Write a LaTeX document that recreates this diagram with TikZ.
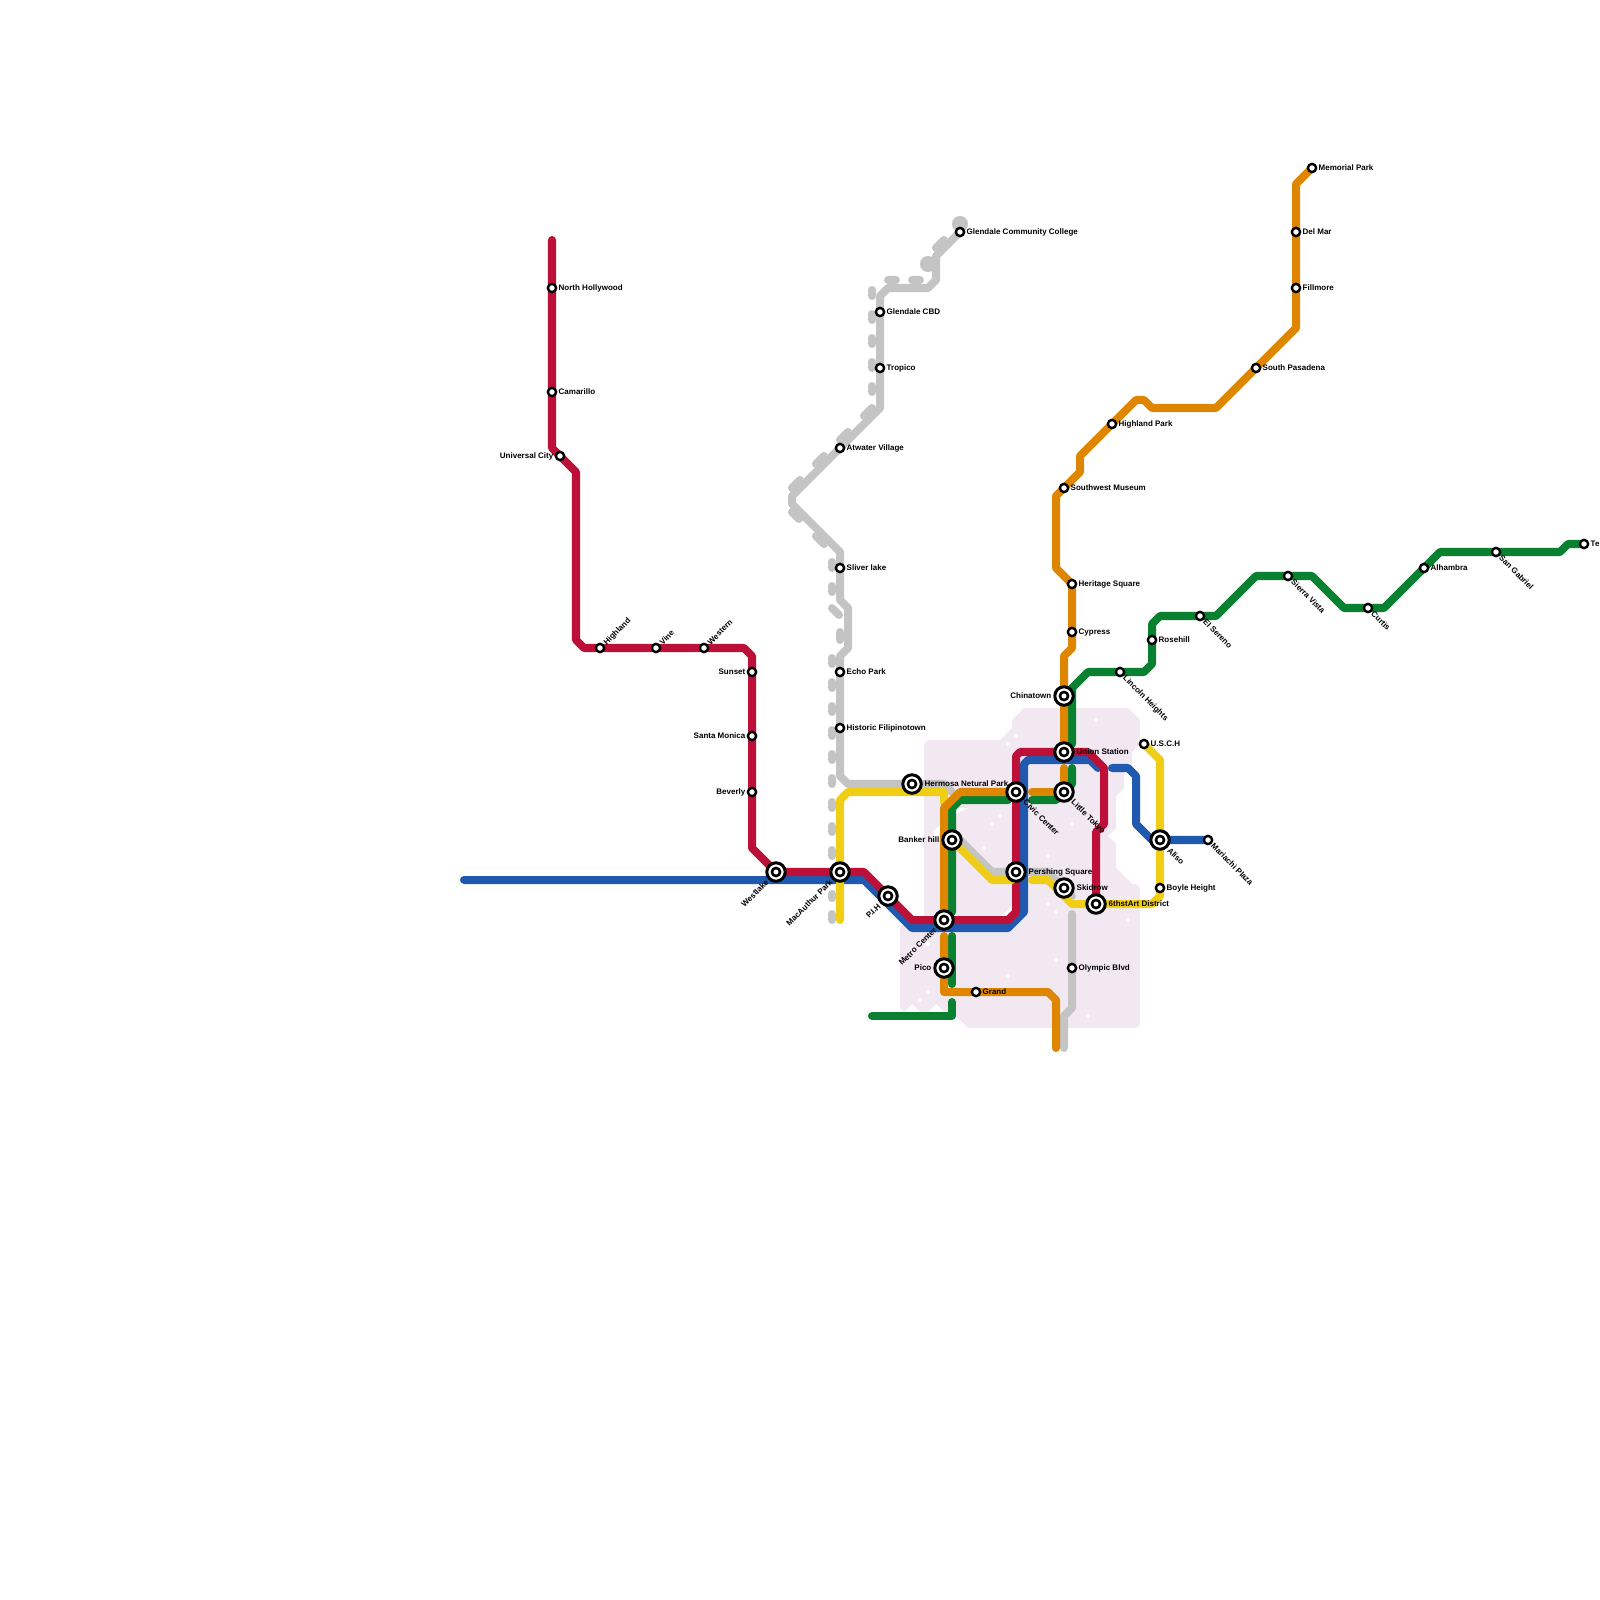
\documentclass[tikz,border=0pt]{standalone}
\usepackage{fontspec}
\setmainfont{Liberation Sans}
\usetikzlibrary{backgrounds}

\definecolor{redline}{HTML}{BD1038}
\definecolor{blueline}{HTML}{1F5AB0}
\definecolor{greenline}{HTML}{0A8131}
\definecolor{orangeline}{HTML}{DF8600}
\definecolor{yellowline}{HTML}{F0CE15}
\definecolor{grayline}{HTML}{C4C4C4}
\definecolor{downtown}{HTML}{F1E8F1}

\tikzset{
  route/.style={line width=2.28pt, line cap=round, line join=round},
  stop/.style={circle, draw=black, fill=white, line width=.68pt, minimum size=2.35pt, inner sep=0pt},
  hub/.style={circle, draw=black, fill=white, line width=.85pt, minimum size=5.25pt, inner sep=0pt,
    path picture={\draw[black, line width=.74pt] (path picture bounding box.center) circle (1.15pt);}},
  tag/.style={inner sep=0pt, text height=1.64pt, text depth=0pt, font=\fontsize{2.276}{2.7}\selectfont\bfseries},
  tagR/.style={tag, anchor=west, xshift=1.7pt},
  tagL/.style={tag, anchor=east, xshift=-1.7pt},
  hubR/.style={tag, anchor=west, xshift=3.4pt},
  hubL/.style={tag, anchor=east, xshift=-3.4pt},
}

\begin{document}
\begin{tikzpicture}[x=0.01cm, y=-0.01cm]
\useasboundingbox (0,0) rectangle (1600,1600);

% North Hollywood branch
\node[stop] (nohollywood) at (552,288) {};
\node[stop] (camarillo) at (552,392) {};
\node[stop] (universal) at (560,456) {};
\node[stop] (highland) at (600,648) {};
\node[stop] (vine) at (656,648) {};
\node[stop] (western) at (704,648) {};
\node[stop] (sunset) at (752,672) {};
\node[stop] (santamonica) at (752,736) {};
\node[stop] (beverly) at (752,792) {};
\node[tagR] (nohollywood-t) at (nohollywood) {North Hollywood};
\node[tagR] (camarillo-t) at (camarillo) {Camarillo};
\node[tagL] (universal-t) at (universal) {Universal City};
\node[rotate=45, tagR] (highland-t) at (highland) {Highland};
\node[rotate=45, tagR] (vine-t) at (vine) {Vine};
\node[rotate=45, tagR] (western-t) at (western) {Western};
\node[tagL] (sunset-t) at (sunset) {Sunset};
\node[tagL] (santamonica-t) at (santamonica) {Santa Monica};
\node[tagL] (beverly-t) at (beverly) {Beverly};

% Central stations
\node[hub] (westlake) at (776,872) {};
\node[hub] (macarthur) at (840,872) {};
\node[hub] (pih) at (888,896) {};
\node[hub] (metrocenter) at (944,920) {};
\node[hub] (pico) at (944,968) {};
\node[stop] (grand) at (976,992) {};
\node[hub] (bankerhill) at (952,840) {};
\node[hub] (hermosa) at (912,784) {};
\node[hub] (civiccenter) at (1016,792) {};
\node[hub] (pershing) at (1016,872) {};
\node[hub] (chinatown) at (1064,696) {};
\node[hub] (union) at (1064,752) {};
\node[hub] (littletokyo) at (1064,792) {};
\node[hub] (skidrow) at (1064,888) {};
\node[hub] (artdistrict) at (1096,904) {};
\node[stop] (olympic) at (1072,968) {};
\node[hub] (aliso) at (1160,840) {};
\node[stop] (mariachi) at (1208,840) {};
\node[stop] (boyle) at (1160,888) {};
\node[stop] (usch) at (1144,744) {};
\node[rotate=45, hubL] (westlake-t) at (westlake) {Westlake};
\node[rotate=45, hubL] (macarthur-t) at (macarthur) {MacAuthur Park};
\node[rotate=45, hubL] (pih-t) at (pih) {P.I.H};
\node[rotate=45, hubL] (metrocenter-t) at (metrocenter) {Metro Center};
\node[hubL] (pico-t) at (pico) {Pico};
\node[tagR] (grand-t) at (grand) {Grand};
\node[hubL] (bankerhill-t) at (bankerhill) {Banker hill};
\node[hubR] (hermosa-t) at (hermosa) {Hermosa Netural Park};
\node[rotate=-45, hubR] (civiccenter-t) at (civiccenter) {Civic Center};
\node[hubR] (pershing-t) at (pershing) {Pershing Square};
\node[hubL] (chinatown-t) at (chinatown) {Chinatown};
\node[hubR] (union-t) at (union) {Union Station};
\node[rotate=-45, hubR] (littletokyo-t) at (littletokyo) {Little Tokyo};
\node[hubR] (skidrow-t) at (skidrow) {Skidrow};
\node[hubR] (artdistrict-t) at (artdistrict) {6thstArt District};
\node[tagR] (olympic-t) at (olympic) {Olympic Blvd};
\node[rotate=-45, hubR] (aliso-t) at (aliso) {Aliso};
\node[rotate=-45, tagR] (mariachi-t) at (mariachi) {Mariachi Plaza};
\node[tagR] (boyle-t) at (boyle) {Boyle Height};
\node[tagR] (usch-t) at (usch) {U.S.C.H};

% Glendale branch
\node[stop] (glendalecc) at (960,232) {};
\node[stop] (glendalecbd) at (880,312) {};
\node[stop] (tropico) at (880,368) {};
\node[stop] (atwater) at (840,448) {};
\node[stop] (sliverlake) at (840,568) {};
\node[stop] (echopark) at (840,672) {};
\node[stop] (filipinotown) at (840,728) {};
\node[tagR] (glendalecc-t) at (glendalecc) {Glendale Community College};
\node[tagR] (glendalecbd-t) at (glendalecbd) {Glendale CBD};
\node[tagR] (tropico-t) at (tropico) {Tropico};
\node[tagR] (atwater-t) at (atwater) {Atwater Village};
\node[tagR] (sliverlake-t) at (sliverlake) {Sliver lake};
\node[tagR] (echopark-t) at (echopark) {Echo Park};
\node[tagR] (filipinotown-t) at (filipinotown) {Historic Filipinotown};

% Pasadena branch
\node[stop] (memorial) at (1312,168) {};
\node[stop] (delmar) at (1296,232) {};
\node[stop] (fillmore) at (1296,288) {};
\node[stop] (southpasadena) at (1256,368) {};
\node[stop] (highlandpark) at (1112,424) {};
\node[stop] (swmuseum) at (1064,488) {};
\node[stop] (heritage) at (1072,584) {};
\node[stop] (cypress) at (1072,632) {};
\node[tagR] (memorial-t) at (memorial) {Memorial Park};
\node[tagR] (delmar-t) at (delmar) {Del Mar};
\node[tagR] (fillmore-t) at (fillmore) {Fillmore};
\node[tagR] (southpasadena-t) at (southpasadena) {South Pasadena};
\node[tagR] (highlandpark-t) at (highlandpark) {Highland Park};
\node[tagR] (swmuseum-t) at (swmuseum) {Southwest Museum};
\node[tagR] (heritage-t) at (heritage) {Heritage Square};
\node[tagR] (cypress-t) at (cypress) {Cypress};

% Eastern branch
\node[stop] (lincoln) at (1120,672) {};
\node[stop] (rosehill) at (1152,640) {};
\node[stop] (elsereno) at (1200,616) {};
\node[stop] (sierravista) at (1288,576) {};
\node[stop] (curtis) at (1368,608) {};
\node[stop] (alhambra) at (1424,568) {};
\node[stop] (sangabriel) at (1496,552) {};
\node[stop] (lastwest) at (1584,544) {};
\node[rotate=-45, tagR] (lincoln-t) at (lincoln) {Lincoln Heights};
\node[tagR] (rosehill-t) at (rosehill) {Rosehill};
\node[rotate=-45, tagR] (elsereno-t) at (elsereno) {El Sereno};
\node[rotate=-45, tagR] (sierravista-t) at (sierravista) {Sierra Vista};
\node[rotate=-45, tagR] (curtis-t) at (curtis) {Curtis};
\node[tagR] (alhambra-t) at (alhambra) {Alhambra};
\node[rotate=-45, tagR] (sangabriel-t) at (sangabriel) {San Gabriel};
\node[tagR] (lastwest-t) at (lastwest) {Te};

\begin{scope}[on background layer]
% Downtown area
\fill[downtown] (924,744) -- (928,740) -- (1000,740) -- (1012,728) -- (1012,720) -- (1024,708) -- (1128,708) -- (1140,720) -- (1140,744) -- (1132,752) -- (1132,764) -- (1124,772) -- (1124,788) -- (1116,796) -- (1116,828) -- (1108,836) -- (1116,844) -- (1116,868) -- (1132,884) -- (1136,884) -- (1140,888) -- (1140,1024) -- (1136,1028) -- (968,1028) -- (952,1012) -- (944,1012) -- (936,1004) -- (928,1012) -- (920,1012) -- (912,1004) -- (904,1012) -- (900,1008) -- (900,928) -- (904,924) -- (924,924) -- cycle;
\fill[white] (940,825) -- (932,833) -- (940,841) -- cycle;
\fill[white] (952,816) -- (960,808) -- (968,808) -- cycle;
\fill[white] (1002,916) -- (1012,906) -- (1012,916) -- cycle;
\fill[white] (1016,736) circle (.6pt) (1008,744) circle (.6pt) (1096,720) circle (.6pt)
  (1000,816) circle (.6pt) (992,824) circle (.6pt) (984,848) circle (.6pt)
  (1072,824) circle (.6pt) (1048,856) circle (.6pt) (1048,904) circle (.6pt)
  (1056,912) circle (.6pt) (1128,920) circle (.6pt) (928,944) circle (.6pt)
  (1056,960) circle (.6pt) (1008,976) circle (.6pt) (928,992) circle (.6pt)
  (920,1000) circle (.6pt) (1088,1016) circle (.6pt);

% Gray line
\fill[grayline] (960,224) circle (2.28pt) (928,264) circle (2.28pt);
\draw[route, grayline] (glendalecc.center) -- (936,256) -- (936,280) -- (928,288) -- (888,288) -- (880,296) -- (880,408) -- (792,496) -- (792,504) -- (840,552) -- (840,600) -- (848,608) -- (848,648) -- (840,656) -- (840,776) -- (848,784) -- (944,784) -- (952,792);
\draw[route, grayline] (952,832) -- (992,872) -- (pershing.center) -- (1048,872) -- (1072,896);
\draw[route, grayline] (1072,914) -- (1072,1008) -- (1064,1016) -- (1064,1048);
% Gray dashes
\draw[route, grayline] (936,248) -- (944,240) (888,280) -- (896,280) (912,280) -- (920,280)
  (872,290) -- (872,296) (872,314) -- (872,320) (872,338) -- (872,344) (872,362) -- (872,368) (872,386) -- (872,392)
  (864,416) -- (872,408) (840,440) -- (848,432) (816,464) -- (824,456) (792,488) -- (800,480)
  (792,512) -- (799,519) (816,536) -- (824,544)
  (832,562) -- (832,568) (832,586) -- (832,592) (832,608) -- (839,615) (840,632) -- (840,640)
  (832,658) -- (832,664) (832,682) -- (832,688) (832,706) -- (832,712) (832,730) -- (832,736)
  (832,754) -- (832,760) (832,778) -- (832,784) (832,802) -- (832,808) (832,826) -- (832,832)
  (832,850) -- (832,856) (832,874) -- (832,880) (832,894) -- (832,898) (832,914) -- (832,920);

% Blue line
\draw[route, blueline] (464,880) -- (864,880) -- (912,928) -- (1008,928) -- (1024,912) -- (1024,764) -- (1028,760) -- (1090,760) -- (1098,768);
\draw[route, blueline] (1112,768) -- (1128,768) -- (1136,776) -- (1136,824) -- (1152,840) -- (mariachi.center);

% Red line
\draw[route, redline] (552,240) -- (552,448) -- (576,472) -- (576,640) -- (584,648) -- (744,648) -- (752,656) -- (752,848) -- (westlake.center) -- (864,872) -- (912,920) -- (1008,920) -- (1016,912) -- (1016,756) -- (1020,752) -- (1088,752) -- (1104,768) -- (1104,824) -- (1096,832) -- (artdistrict.center);

% Green line
\draw[route, greenline] (lastwest.center) -- (1568,544) -- (1560,552) -- (1440,552) -- (1384,608) -- (1344,608) -- (1312,576) -- (1256,576) -- (1216,616) -- (1160,616) -- (1152,624) -- (1152,664) -- (1144,672) -- (1088,672) -- (1072,688) -- (1072,744);
\draw[route, greenline] (1072,768) -- (1072,784) -- (1056,800) -- (1032,800);
\draw[route, greenline] (1008,800) -- (960,800) -- (952,808) -- (952,912);
\draw[route, greenline] (952,936) -- (952,984);
\draw[route, greenline] (952,1002) -- (952,1016) -- (872,1016);

% Yellow line
\draw[route, yellowline] (840,920) -- (840,800) -- (848,792) -- (944,792) -- (944,802);
\draw[route, yellowline] (bankerhill.center) -- (992,880) -- (1012,880);
\draw[route, yellowline] (1032,880) -- (1048,880) -- (1072,904) -- (1152,904) -- (1160,896) -- (1160,760) -- (usch.center);

% Orange line
\draw[route, orangeline] (memorial.center) -- (1296,184) -- (1296,328) -- (1216,408) -- (1152,408) -- (1144,400) -- (1136,400) -- (1080,456) -- (1080,472) -- (1056,496) -- (1056,568) -- (1072,584) -- (1072,648) -- (1064,656) -- (1064,744);
\draw[route, orangeline] (1064,768) -- (littletokyo.center) -- (1032,792);
\draw[route, orangeline] (1008,792) -- (960,792) -- (944,808) -- (944,912);
\draw[route, orangeline] (944,936) -- (944,992) -- (1048,992) -- (1056,1000) -- (1056,1048);
\end{scope}

\end{tikzpicture}
\end{document}
